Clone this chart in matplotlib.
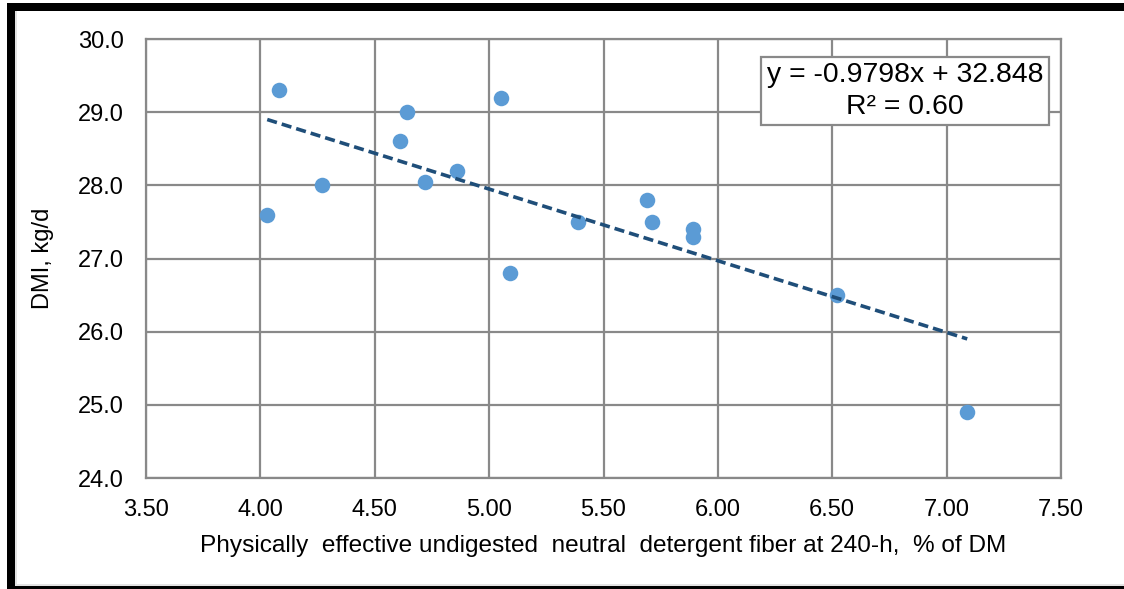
import matplotlib.pyplot as plt
import numpy as np

plt.rcParams['font.family'] = ['Liberation Sans', 'DejaVu Sans']

# data
pendf240 = [4.03, 4.08, 4.27, 4.61, 4.64, 4.72, 4.86, 5.05, 5.09, 5.39, 5.69, 5.71, 5.89, 5.89, 6.52, 7.09]
dmi = [27.6, 29.3, 28.0, 28.6, 29.0, 28.05, 28.2, 29.2, 26.8, 27.5, 27.8, 27.5, 27.4, 27.3, 26.5, 24.9]
slope = -0.9798
intercept = 32.848
r2_text = 'R² = 0.60'

x_ticks = [3.5, 4.0, 4.5, 5.0, 5.5, 6.0, 6.5, 7.0, 7.5]
y_ticks = [24.0, 25.0, 26.0, 27.0, 28.0, 29.0, 30.0]

W, H = 1124, 589
fig = plt.figure(figsize=(W/100, H/100), dpi=100)
ax = fig.add_axes([146/W, 1-478/H, (1061-146)/W, (478-39)/H])

grid_col = '#898989'
ax.set_axisbelow(True)
ax.grid(True, color=grid_col, linewidth=1.6)
for s in ax.spines.values():
    s.set_color(grid_col)
    s.set_linewidth(1.6)

ax.scatter(pendf240, dmi, s=125, color='#5B9BD5', zorder=3, linewidths=0)

# linear trendline over the data range
xs = np.array([min(pendf240), max(pendf240)])
ax.plot(xs, slope*xs + intercept, color='#1F4E79', linestyle=(0, (2.8, 1.4)), linewidth=2.6, zorder=4)

ax.set_xlim(3.5, 7.5)
ax.set_ylim(24, 30)
ax.set_xticks(x_ticks)
ax.set_yticks(y_ticks)
ax.set_xticklabels(['%.2f' % t for t in x_ticks])
ax.set_yticklabels(['%.1f' % t for t in y_ticks])
ax.tick_params(length=0, labelsize=17, colors='black')
ax.tick_params(axis='x', pad=15)
ax.tick_params(axis='y', pad=16)

ax.set_xlabel('Physically  effective undigested  neutral  detergent fiber at 240-h,  % of DM', fontsize=17.6, labelpad=10)
ax.set_ylabel('DMI, kg/d', fontsize=17, labelpad=17)

ax.text((905-146)/915, 1-(91-39)/439, 'y = -0.9798x + 32.848\n' + r2_text, transform=ax.transAxes,
        ha='center', va='center', fontsize=20.4, linespacing=1.25,
        bbox=dict(boxstyle='square,pad=0.2', facecolor='white', edgecolor=grid_col, linewidth=1.6), zorder=5)

# outer frame: thick black left and top, thin bottom, no right side
def px_rect(x0, y0, x1, y1, color):
    fig.patches.append(plt.Rectangle((x0/W, 1-y1/H), (x1-x0)/W, (y1-y0)/H, transform=fig.transFigure,
                                     facecolor=color, edgecolor='none', zorder=10))

px_rect(7, 3, W, 11, 'black')
px_rect(7, 3, 15, 589, 'black')
px_rect(7, 586, W, 589, 'black')
px_rect(15, 11, 17, 586, '#e3e3e3')
px_rect(15, 584, W, 586, '#e3e3e3')

fig.savefig('out.png', dpi=100)
